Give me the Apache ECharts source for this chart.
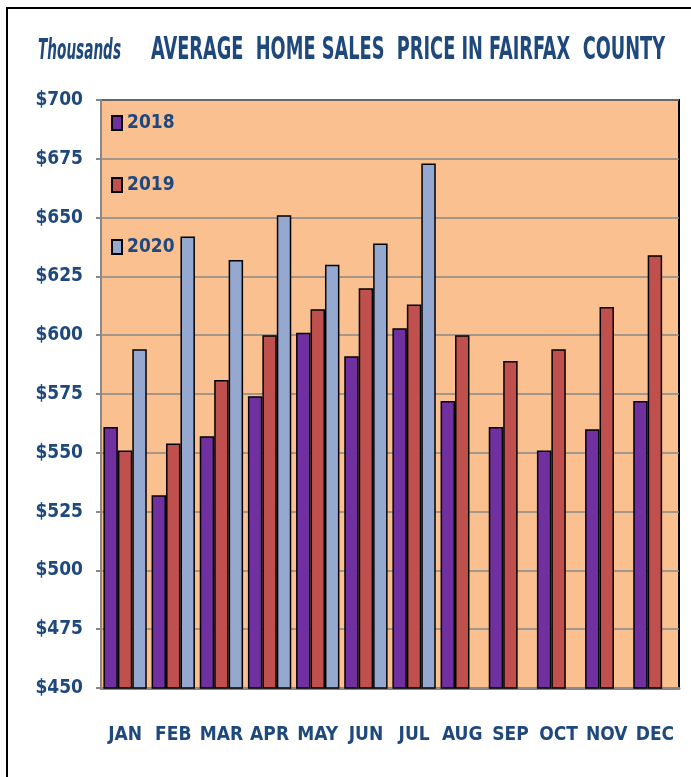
<!DOCTYPE html>
<html>
<head>
<meta charset="utf-8">
<script src="https://cdn.jsdelivr.net/npm/echarts@6/dist/echarts.min.js"></script>
<style>
  html, body { margin: 0; padding: 0; background: #fff; }
  #chart { width: 691px; height: 777px; }
</style>
</head>
<body>
<div id="chart"></div>
<script>
var months = ["JAN", "FEB", "MAR", "APR", "MAY", "JUN", "JUL", "AUG", "SEP", "OCT", "NOV", "DEC"];
var sales2018 = [561, 532, 557, 574, 601, 591, 603, 572, 561, 551, 560, 572];
var sales2019 = [551, 554, 581, 600, 611, 620, 613, 600, 589, 594, 612, 634];
var sales2020 = [594, 642, 632, 651, 630, 639, 673, null, null, null, null, null];

var FONT = '"DejaVu Sans Condensed", "Liberation Sans", sans-serif';
var BLUE = "#1F497D";
var titleText = "AVERAGE  HOME SALES  PRICE IN FAIRFAX  COUNTY";

// squeeze text horizontally so it fits the width used in the picture
function squeeze(text, font, width) {
  var ctx = document.createElement("canvas").getContext("2d");
  ctx.font = font;
  return width / ctx.measureText(text).width;
}

var titleFont = "bold 32px " + FONT;
var unitFont = "italic bold 28px " + FONT;

var chart = echarts.init(document.getElementById("chart"));

function barSeries(name, color, data) {
  return {
    name: name,
    type: "bar",
    barGap: "0%",
    barCategoryGap: "10%",
    itemStyle: { color: color, borderColor: "#000", borderWidth: 1.5 },
    data: data
  };
}

var option = {
  backgroundColor: "#fff",
  animation: false,
  graphic: [
    {
      type: "rect",
      shape: { x: 7, y: 8, width: 720, height: 800 },
      style: { fill: "none", stroke: "#000", lineWidth: 2 },
      silent: true
    },
    {
      type: "text",
      x: 38, y: 38,
      scaleX: squeeze("Thousands", unitFont, 83),
      style: { text: "Thousands", fill: BLUE, font: unitFont, verticalAlign: "top" }
    },
    {
      type: "text",
      x: 151, y: 35,
      scaleX: squeeze(titleText, titleFont, 514),
      style: { text: titleText, fill: BLUE, font: titleFont, verticalAlign: "top" }
    }
  ],
  legend: {
    orient: "vertical",
    left: 106,
    top: 108,
    icon: "rect",
    itemWidth: 10,
    itemHeight: 14,
    itemGap: 42,
    textStyle: { color: BLUE, fontFamily: FONT, fontWeight: "bold", fontSize: 19, lineHeight: 20 },
    data: ["2018", "2019", "2020"]
  },
  grid: { left: 101, top: 100, right: 12, bottom: 89, show: true, backgroundColor: "#FAC090", borderColor: "#000", borderWidth: 2 },
  xAxis: {
    type: "category",
    data: months,
    axisLine: { lineStyle: { color: "#888", width: 3 } },
    axisTick: { length: 12, lineStyle: { color: "#888", width: 2 } },
    axisLabel: { interval: 0, color: BLUE, fontFamily: FONT, fontWeight: "bold", fontSize: 19, margin: 38 }
  },
  yAxis: {
    type: "value",
    min: 450,
    max: 700,
    interval: 25,
    axisLine: { show: true, lineStyle: { color: "#888", width: 2 } },
    axisTick: { show: true, length: 5, lineStyle: { color: "#888", width: 2 } },
    splitLine: { lineStyle: { color: "#888", width: 1.5 } },
    axisLabel: { color: BLUE, fontFamily: FONT, fontWeight: "bold", fontSize: 19, margin: 18, formatter: "${value}" }
  },
  series: [
    barSeries("2018", "#7030A0", sales2018),
    barSeries("2019", "#C0504D", sales2019),
    barSeries("2020", "#95A9D0", sales2020)
  ]
};

chart.setOption(option);
</script>
</body>
</html>
